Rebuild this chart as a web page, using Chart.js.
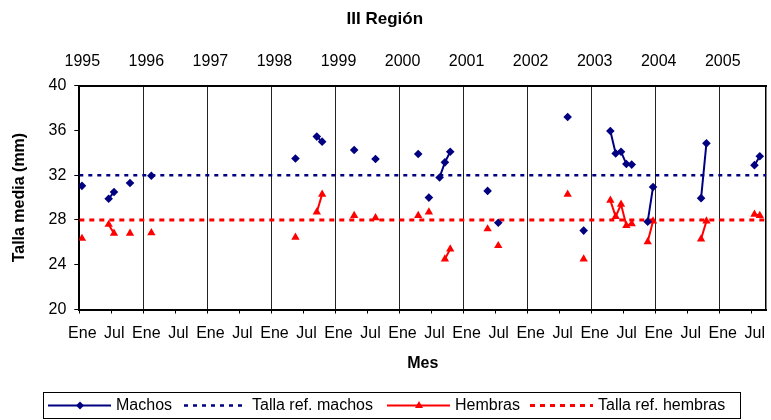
<!DOCTYPE html>
<html>
<head>
<meta charset="utf-8">
<script src="https://cdn.jsdelivr.net/npm/chart.js@4.4.1/dist/chart.umd.min.js"></script>
<style>
  html, body { margin: 0; padding: 0; background: #fff; }
  #chart { display: block; }
</style>
</head>
<body>
<canvas id="chart" width="771" height="420"></canvas>
<script>
// meses contados desde enero 1995 (0 = Ene 1995)
const machosMes = [0, 5, 6, 9, 13, 40, 44, 45, 51, 55, 63, 65, 67, 68, 69, 76, 78,
    91, 94, 99, 100, 101, 102, 103, 106, 107, 116, 117, 126, 127];
const machosTalla = [31.05, 29.9, 30.5, 31.3, 31.95, 33.5, 35.45, 35.0, 34.25, 33.45, 33.9, 30.0, 31.8, 33.15, 34.1, 30.6, 27.75,
    37.2, 27.05, 35.95, 33.95, 34.1, 33.0, 32.95, 27.85, 30.95, 29.95, 34.85, 32.9, 33.7];

const hembrasMes = [0, 5, 6, 9, 13, 40, 44, 45, 51, 55, 63, 65, 68, 69, 76, 78,
    91, 94, 99, 100, 101, 102, 103, 106, 107, 116, 117, 126, 127];
const hembrasTalla = [26.35, 27.6, 26.8, 26.8, 26.85, 26.45, 28.7, 30.3, 28.4, 28.2, 28.4, 28.7, 24.5, 25.4, 27.2, 25.7,
    30.3, 24.5, 29.75, 28.3, 29.4, 27.5, 27.65, 26.05, 27.9, 26.3, 27.9, 28.5, 28.4];

const tallaRefMachos = 32;
const tallaRefHembras = 28;

const anios = [1995, 1996, 1997, 1998, 1999, 2000, 2001, 2002, 2003, 2004, 2005];
const mesLabels = ['Ene', 'Jul'];
const yMin = 20, yMax = 40, yStep = 4;
const xMax = 128.7;

const NAVY = '#000080';
const RED = '#ff0000';

// puntos a mitad de mes, con corte de linea cuando falta un mes
function toPoints(meses, tallas) {
    const pts = [];
    meses.forEach((m, i) => {
        if (i > 0 && m !== meses[i - 1] + 1) pts.push({ x: m, y: null });
        pts.push({ x: m + 0.5, y: tallas[i] });
    });
    return pts;
}

const bottomTicks = [];
anios.forEach((a, i) => {
    bottomTicks.push(i * 12);
    bottomTicks.push(i * 12 + 6);
});
const topTicks = anios.map((a, i) => i * 12);

const legendItems = [
    { text: 'Machos', color: NAVY, dash: [], width: 2, point: 'diamond', x: 48 },
    { text: 'Talla ref. machos', color: NAVY, dash: [4, 5], width: 2.5, point: null, x: 184 },
    { text: 'Hembras', color: RED, dash: [], width: 2, point: 'triangle', x: 387 },
    { text: 'Talla ref. hembras', color: RED, dash: [5, 5], width: 3, point: null, x: 530 }
];

const legendPlugin = {
    id: 'excelLegend',
    afterDraw(chart) {
        const ctx = chart.ctx;
        ctx.save();
        ctx.fillStyle = '#fff';
        ctx.fillRect(43.5, 392.5, 697, 26);
        ctx.strokeStyle = '#000';
        ctx.lineWidth = 1;
        ctx.strokeRect(43.5, 392.5, 697, 26);
        const cy = 405.5;
        ctx.font = '16px "Liberation Sans", Arial, sans-serif';
        ctx.textBaseline = 'middle';
        legendItems.forEach(it => {
            ctx.strokeStyle = it.color;
            ctx.lineWidth = it.width;
            ctx.setLineDash(it.dash);
            ctx.beginPath();
            ctx.moveTo(it.x, cy);
            ctx.lineTo(it.x + 63, cy);
            ctx.stroke();
            ctx.setLineDash([]);
            ctx.fillStyle = it.color;
            const px = it.x + 32;
            if (it.point === 'diamond') {
                ctx.beginPath();
                ctx.moveTo(px, cy - 4);
                ctx.lineTo(px + 4, cy);
                ctx.lineTo(px, cy + 4);
                ctx.lineTo(px - 4, cy);
                ctx.closePath();
                ctx.fill();
            } else if (it.point === 'triangle') {
                ctx.beginPath();
                ctx.moveTo(px, cy - 4.5);
                ctx.lineTo(px + 4, cy + 2.5);
                ctx.lineTo(px - 4, cy + 2.5);
                ctx.closePath();
                ctx.fill();
            }
            ctx.fillStyle = '#000';
            ctx.fillText(it.text, it.x + 68, cy);
        });
        ctx.restore();
    }
};

Chart.defaults.font.family = '"Liberation Sans", Arial, sans-serif';
Chart.defaults.font.size = 16;
Chart.defaults.color = '#000';

new Chart(document.getElementById('chart').getContext('2d'), {
    type: 'line',
    data: {
        datasets: [
            {
                label: 'Machos',
                data: toPoints(machosMes, machosTalla),
                borderColor: NAVY,
                backgroundColor: NAVY,
                borderWidth: 2,
                pointStyle: 'rectRot',
                pointRadius: 4.3,
                pointBorderWidth: 0,
                spanGaps: false,
                order: 1
            },
            {
                label: 'Talla ref. machos',
                data: [{ x: 0, y: tallaRefMachos }, { x: xMax, y: tallaRefMachos }],
                borderColor: NAVY,
                borderWidth: 2.5,
                borderDash: [4, 5],
                pointRadius: 0,
                order: 3
            },
            {
                label: 'Hembras',
                data: toPoints(hembrasMes, hembrasTalla),
                borderColor: RED,
                backgroundColor: RED,
                borderWidth: 2,
                pointStyle: 'triangle',
                pointRadius: 4.8,
                pointBorderWidth: 0,
                spanGaps: false,
                order: 2
            },
            {
                label: 'Talla ref. hembras',
                data: [{ x: 0, y: tallaRefHembras }, { x: xMax, y: tallaRefHembras }],
                borderColor: RED,
                borderWidth: 3,
                borderDash: [5, 5],
                pointRadius: 0,
                order: 4
            }
        ]
    },
    options: {
        responsive: false,
        animation: false,
        devicePixelRatio: 1,
        layout: { padding: { left: 0, right: 1.3, top: 0, bottom: 38 } },
        plugins: {
            legend: { display: false },
            tooltip: { enabled: false },
            title: {
                display: true,
                text: 'III Región',
                font: { size: 17, weight: 'bold' },
                padding: { top: 9.4, bottom: 2.8 }
            }
        },
        scales: {
            x: {
                type: 'linear',
                position: 'bottom',
                min: 0,
                max: xMax,
                afterBuildTicks: s => { s.ticks = bottomTicks.map(v => ({ value: v })); },
                afterFit: s => { s.height = 72.5; s.paddingLeft = 0; s.paddingRight = 0; },
                ticks: {
                    autoSkip: false,
                    maxRotation: 0,
                    padding: 10.4,
                    labelOffset: 3,
                    callback: v => mesLabels[(v % 12) / 6]
                },
                grid: {
                    color: c => (c.tick && c.tick.value % 12 === 0 ? '#222' : 'rgba(0,0,0,0)'),
                    tickColor: '#000',
                    tickLength: 4,
                    lineWidth: 1
                },
                border: { display: true, color: '#000', width: 2 },
                title: {
                    display: true,
                    text: 'Mes',
                    font: { size: 16, weight: 'bold' },
                    padding: { top: 0, bottom: 8.5 }
                }
            },
            xTop: {
                type: 'linear',
                position: 'top',
                min: 0,
                max: xMax,
                afterBuildTicks: s => { s.ticks = topTicks.map(v => ({ value: v })); },
                afterFit: s => { s.height = 53.1; s.paddingLeft = 0; s.paddingRight = 0; },
                ticks: {
                    autoSkip: false,
                    maxRotation: 0,
                    padding: 15,
                    labelOffset: 3,
                    callback: v => String(anios[v / 12])
                },
                grid: { display: false, drawTicks: false },
                border: { display: true, color: '#000', width: 2 }
            },
            y: {
                type: 'linear',
                position: 'left',
                min: yMin,
                max: yMax,
                afterFit: s => { s.width = 79.3; s.paddingTop = 0; s.paddingBottom = 0; },
                ticks: { stepSize: yStep, padding: 8 },
                grid: {
                    drawOnChartArea: false,
                    color: '#000',
                    tickLength: 5
                },
                border: { display: true, color: '#000', width: 2 },
                title: {
                    display: true,
                    text: 'Talla media (mm)',
                    font: { size: 16, weight: 'bold' },
                    padding: { top: 10.4, bottom: 0 }
                }
            },
            yRight: {
                type: 'linear',
                position: 'right',
                min: yMin,
                max: yMax,
                afterFit: s => { s.width = 0; },
                ticks: { display: false },
                grid: { display: false, drawTicks: false },
                border: { display: true, color: '#000', width: 1.5 }
            }
        }
    },
    plugins: [legendPlugin]
});
</script>
</body>
</html>
